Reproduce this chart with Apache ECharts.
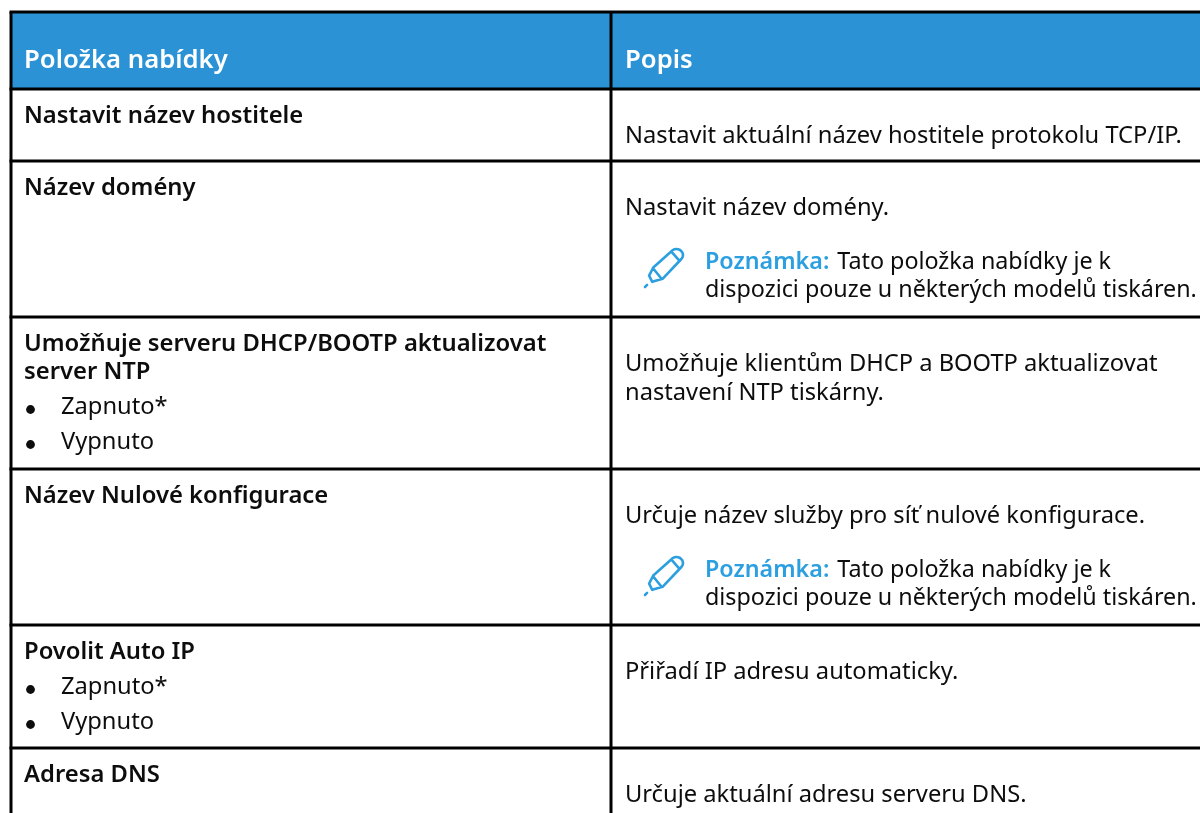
<!DOCTYPE html>
<html><head><meta charset="utf-8">
<style>html,body{margin:0;padding:0;background:#fff}#c{width:1200px;height:813px}</style>
<script src="https://cdn.jsdelivr.net/npm/echarts@6/dist/echarts.min.js"></script>
</head><body><div id="c"></div>
<script>
const columnHeaders = ['Položka nabídky', 'Popis'];
const columnEdges = [11, 611, 1200];
const rowEdges = [12, 89, 161, 317, 469, 625, 748, 813];
const leftCells = [
  ['Nastavit název hostitele'],
  ['Název domény'],
  ['Umožňuje serveru DHCP/BOOTP aktualizovat', 'server NTP', '•Zapnuto*', '•Vypnuto'],
  ['Název Nulové konfigurace'],
  ['Povolit Auto IP', '•Zapnuto*', '•Vypnuto'],
  ['Adresa DNS']
];
const rightCells = [
  ['Nastavit aktuální název hostitele protokolu TCP/IP.'],
  ['Nastavit název domény.'],
  ['Umožňuje klientům DHCP a BOOTP aktualizovat', 'nastavení NTP tiskárny.'],
  ['Určuje název služby pro síť nulové konfigurace.'],
  ['Přiřadí IP adresu automaticky.'],
  ['Určuje aktuální adresu serveru DNS.']
];
const noteRows = [1, 3];
const noteLabel = 'Poznámka:';
const noteLines = ['Tato položka nabídky je k', 'dispozici pouze u některých modelů tiskáren.'];

const FONT = '"Noto Sans"';
const BLUE = '#2b92d5', NOTE = '#2b9fe0';
const LH = 29.5, FS = 23.7, NFS = 23.3, BFS = 23.8, HFS = 25.7, WEIGHT = 600;
const ctx = document.createElement('canvas').getContext('2d');
function tw(s, w, size) { ctx.font = w + ' ' + size + 'px ' + FONT; return ctx.measureText(s).width; }

const chart = echarts.init(document.getElementById('c'), null, {renderer: 'canvas'});
function t(api, x, y, text, o) {
  const p = api.coord([x, y]);
  return {type: 'text', x: p[0], y: p[1], style: Object.assign({text, fontFamily: FONT, fontSize: FS, fill: '#0d0d0d', verticalAlign: 'middle', align: 'left'}, o || {})};
}
function line(api, x1, y1, x2, y2, w) {
  const a = api.coord([x1, y1]), b = api.coord([x2, y2]);
  return {type: 'line', shape: {x1: a[0], y1: a[1], x2: b[0], y2: b[1]}, style: {stroke: '#000', lineWidth: w}};
}
function renderItem(params, api) {
  const ch = [];
  const [x0, x1, x2] = columnEdges;
  const a = api.coord([x0, rowEdges[0]]), b = api.coord([x2, rowEdges[1]]);
  ch.push({type: 'rect', shape: {x: a[0], y: a[1], width: b[0] - a[0], height: b[1] - a[1]}, style: {fill: BLUE}});
  rowEdges.forEach((y, i) => { if (i < rowEdges.length - 1) ch.push(line(api, x0 - 1.5, y, x2, y, 3)); });
  ch.push(line(api, x0, rowEdges[0], x0, rowEdges[rowEdges.length - 1], 3));
  ch.push(line(api, x1, rowEdges[0], x1, rowEdges[rowEdges.length - 1], 3));
  const hy = rowEdges[1] - 28;
  ch.push(t(api, x0 + 13, hy, columnHeaders[0], {fill: '#fff', fontWeight: WEIGHT, fontSize: HFS}));
  ch.push(t(api, x1 + 14, hy, columnHeaders[1], {fill: '#fff', fontWeight: WEIGHT, fontSize: HFS}));
  leftCells.forEach((lines, r) => {
    const top = rowEdges[r + 1];
    let y = top + 27.5;
    lines.forEach((s, i) => {
      if (s[0] === '•') {
        y += 35;
        const c = api.coord([x0 + 19.5, y + 2]);
        ch.push({type: 'circle', shape: {cx: c[0], cy: c[1], r: 4.4}, style: {fill: '#0d0d0d'}});
        ch.push(t(api, x0 + 50, y, s.slice(1)));
      } else {
        if (i > 0) y += 28;
        ch.push(t(api, x0 + 13, y, s, {fontWeight: WEIGHT, fontSize: BFS}));
      }
    });
  });
  rightCells.forEach((lines, r) => {
    const top = rowEdges[r + 1];
    lines.forEach((s, i) => ch.push(t(api, x1 + 14, top + 47 + i * LH, s)));
  });
  noteRows.forEach(r => {
    const top = rowEdges[r + 1];
    const lx = x1 + 94, y = top + 101;
    ch.push(t(api, lx, y, noteLabel, {fill: NOTE, fontWeight: WEIGHT, fontSize: NFS}));
    ch.push(t(api, lx + tw(noteLabel, WEIGHT, NFS) + 8, y, noteLines[0], {fontSize: NFS}));
    ch.push(t(api, lx, y + 28.5, noteLines[1], {fontSize: NFS}));
    const pa = api.coord([x1 + 34, top + 88]);
    ch.push({type: 'path', x: pa[0], y: pa[1], shape: {pathData: 'M4 27 L8 19 L27 2 Q30 0 34 2 L36 4 Q38 8 35 11 L17 30 L7 33 Z M8 20 L16 30 M26 4 L33 12 M0 38 L2 36', x: 0, y: 0, width: 38, height: 38, layout: 'cover'}, style: {fill: 'none', stroke: NOTE, lineWidth: 2.6, lineCap: 'round', lineJoin: 'round'}});
  });
  return {type: 'group', children: ch};
}
chart.setOption({
  animation: false,
  grid: {left: 0, right: 0, top: 0, bottom: 0},
  xAxis: {type: 'value', min: 0, max: 1200, show: false},
  yAxis: {type: 'value', min: 0, max: 813, inverse: true, show: false},
  series: [{type: 'custom', coordinateSystem: 'cartesian2d', data: [[0, 0]], clip: false, renderItem, silent: true}]
});
</script></body></html>
